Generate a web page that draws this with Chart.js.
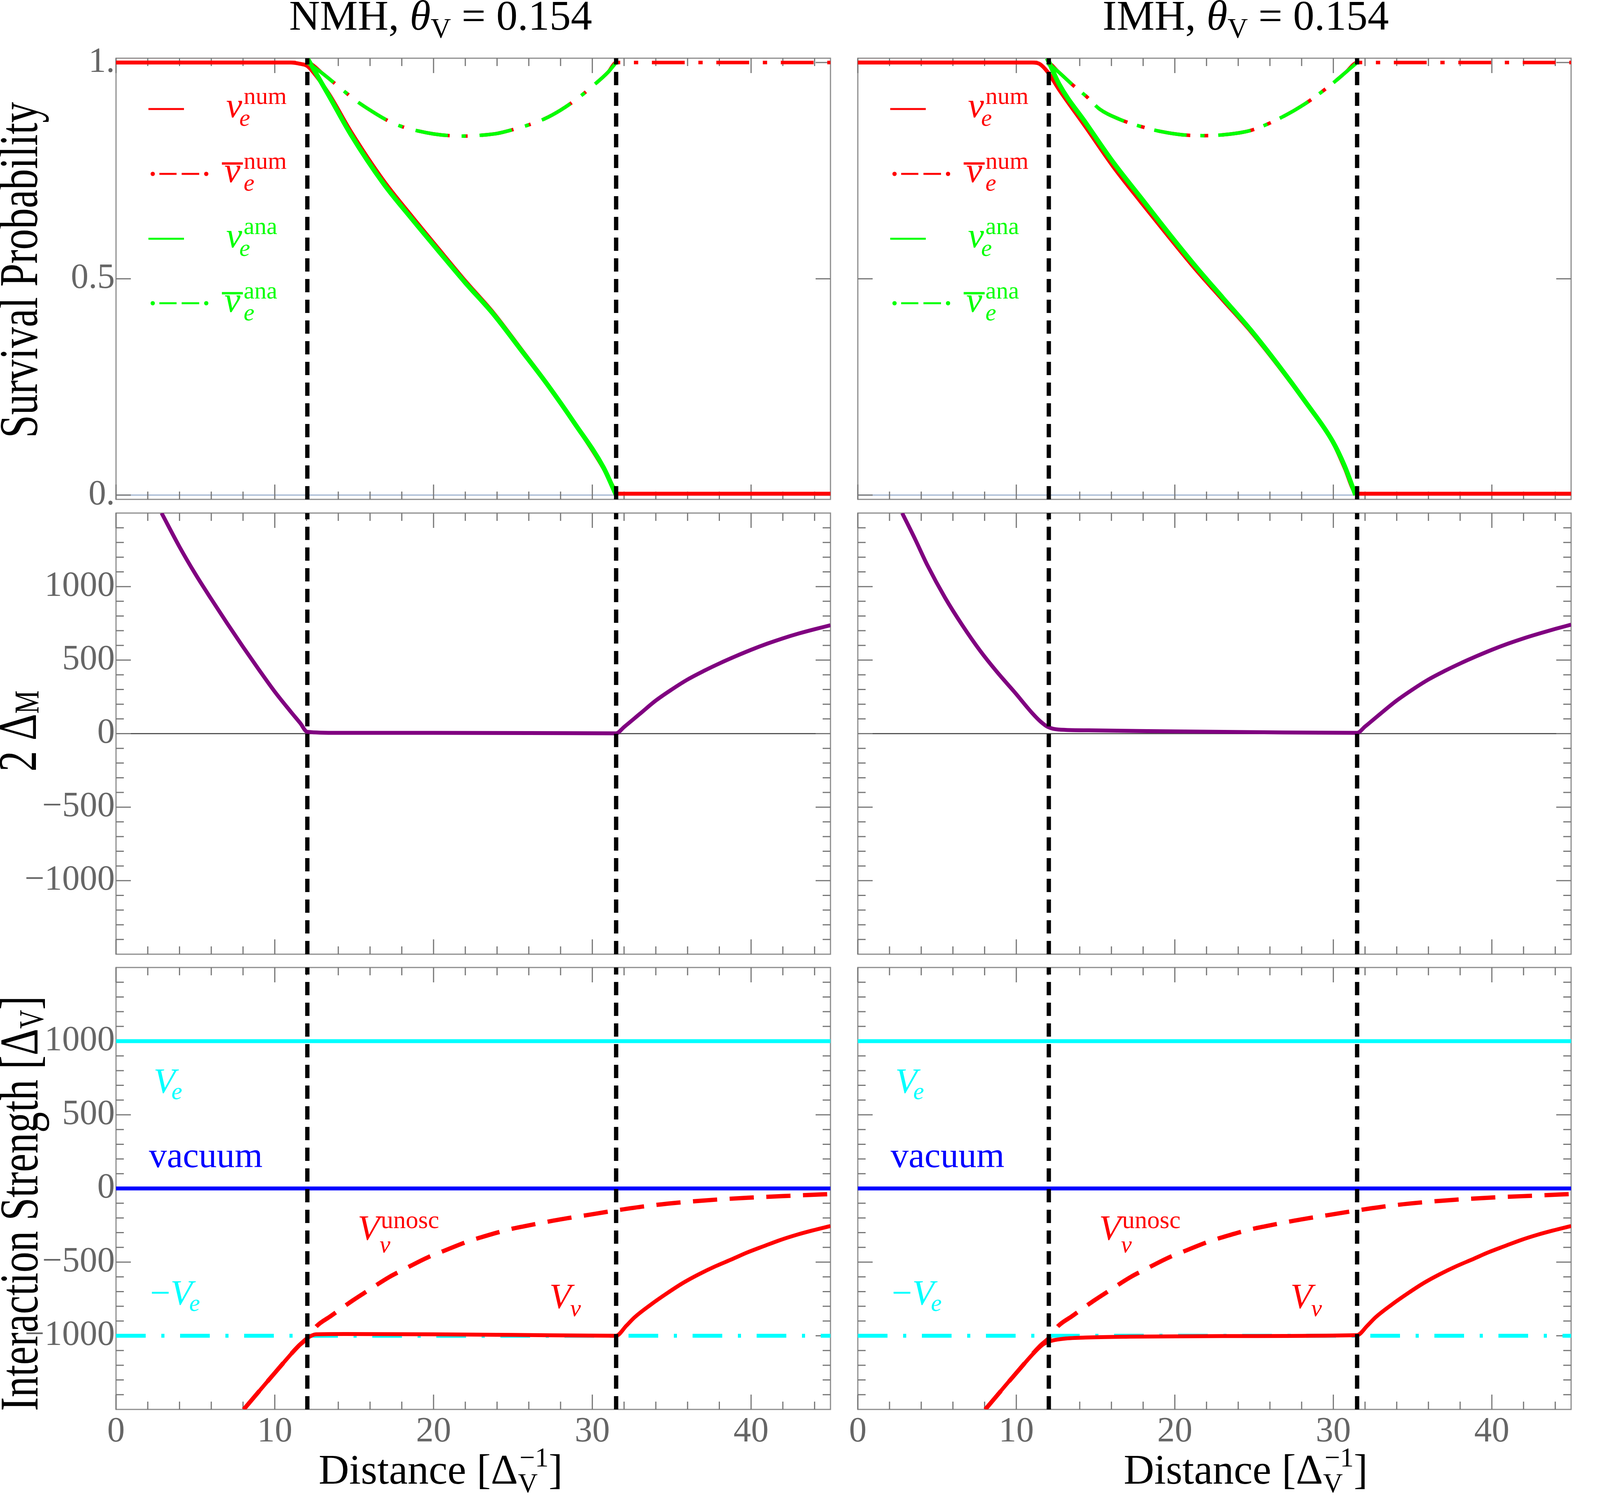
<!DOCTYPE html>
<html><head><meta charset="utf-8">
<script src="https://cdn.jsdelivr.net/npm/chart.js@4.4.0/dist/chart.umd.min.js"></script>
<style>
html,body{margin:0;padding:0;background:#fff;width:4223px;height:3826px;overflow:hidden;position:relative}
canvas{position:absolute}
</style></head><body>
<script>
// ---------------- DATA ----------------
const distTicks = [0, 10, 20, 30, 40];
const distTickLabels = ['0', '10', '20', '30', '40'];
const distMinorTicks = [2, 4, 6, 8, 12, 14, 16, 18, 22, 24, 26, 28, 32, 34, 36, 38, 42, 44];
const probTicks = [0, 0.5, 1];
const probTickLabels = ['0.', '0.5', '1.'];
const strengthTicks = [-1000, -500, 0, 500, 1000];
const strengthTickLabels = ['\u22121000', '\u2212500', '0', '500', '1000'];
const strengthMinorTicks = [-1400, -1300, -1200, -1100, -900, -800, -700, -600, -400, -300, -200, -100,
  100, 200, 300, 400, 600, 700, 800, 900, 1100, 1200, 1300, 1400];
const transitionX = [12.05, 31.5];

// NMH survival probabilities
const nmhNueNumX = [0, 11.0, 11.6, 12.0, 12.3, 13.4, 14.8, 16.85, 18.6, 20.3, 22.0, 23.8, 25.5, 27.2, 28.9, 30.7, 31.45, 31.6, 45];
const nmhNueNumY = [1.0, 1.0, 0.997, 0.993, 0.983, 0.928, 0.84, 0.727, 0.646, 0.57, 0.495, 0.42, 0.338, 0.255, 0.165, 0.062, 0.01, 0.003, 0.003];
const nmhNueAnaX = [12.05, 13.4, 14.8, 16.85, 18.6, 20.3, 22.0, 23.8, 25.5, 27.2, 28.9, 30.7, 31.5];
const nmhNueAnaY = [1.01, 0.924, 0.833, 0.72, 0.64, 0.565, 0.491, 0.417, 0.336, 0.254, 0.165, 0.064, 0.0];
const nmhAntiNumX = [0, 12.05, 13, 14, 15, 16, 17, 18, 19, 20, 21, 22, 23, 24, 25, 26, 27, 28, 29, 30, 31, 31.5, 45];
const nmhAntiNumY = [1.0, 1.0, 0.975, 0.945, 0.915, 0.89, 0.868, 0.852, 0.842, 0.835, 0.831, 0.83, 0.832, 0.836, 0.845, 0.856, 0.87, 0.89, 0.915, 0.945, 0.978, 1.0, 1.0];
const nmhAntiAnaX = [12.05, 13, 14, 15, 16, 17, 18, 19, 20, 21, 22, 23, 24, 25, 26, 27, 28, 29, 30, 31, 31.5];
const nmhAntiAnaY = [1.0, 0.975, 0.945, 0.915, 0.89, 0.868, 0.852, 0.842, 0.835, 0.831, 0.83, 0.832, 0.836, 0.845, 0.856, 0.87, 0.89, 0.915, 0.945, 0.978, 1.0];

// IMH survival probabilities
const imhNueNumX = [0, 11.0, 11.46, 11.98, 12.67, 14.41, 16.1, 17.87, 19.6, 21.33, 23.05, 24.78, 26.5, 28.23, 29.96, 30.7, 31.4, 31.6, 45];
const imhNueNumY = [1.0, 1.0, 0.997, 0.978, 0.939, 0.849, 0.76, 0.677, 0.598, 0.521, 0.45, 0.379, 0.3, 0.215, 0.123, 0.064, 0.005, 0.003, 0.003];
const imhNueAnaX = [11.95, 12.7, 14.41, 16.1, 17.87, 19.6, 21.33, 23.05, 24.78, 26.5, 28.23, 29.96, 30.7, 31.4];
const imhNueAnaY = [1.01, 0.95, 0.859, 0.77, 0.687, 0.606, 0.528, 0.455, 0.382, 0.302, 0.216, 0.124, 0.068, 0.0];
const imhAntiNumX = [0, 11.95, 12.67, 13.5, 14.41, 15.27, 16.5, 17.87, 19.2, 20.46, 21.8, 23.06, 24.78, 26.5, 28.23, 29.96, 30.8, 31.5, 45];
const imhAntiNumY = [1.0, 1.0, 0.978, 0.95, 0.922, 0.892, 0.869, 0.852, 0.84, 0.833, 0.831, 0.833, 0.843, 0.869, 0.905, 0.952, 0.978, 1.0, 1.0];
const imhAntiAnaX = [11.95, 12.67, 13.5, 14.41, 15.27, 16.5, 17.87, 19.2, 20.46, 21.8, 23.06, 24.78, 26.5, 28.23, 29.96, 30.8, 31.5];
const imhAntiAnaY = [1.0, 0.978, 0.95, 0.922, 0.892, 0.869, 0.852, 0.84, 0.833, 0.831, 0.833, 0.843, 0.869, 0.905, 0.952, 0.978, 1.0];

// 2 Delta_M
const nmhDeltaX = [2.87, 4.0, 5.0, 6.0, 7.0, 8.0, 9.0, 10.0, 11.0, 11.6, 12.05, 14, 20, 26, 31.5, 32, 33, 34, 35, 36, 37, 38, 39, 40, 41, 42, 43, 44, 45];
const nmhDeltaY = [1500, 1270, 1085, 915, 750, 590, 435, 285, 150, 72, 12, 5, 5, 4, 2, 45, 135, 225, 300, 368, 425, 477, 525, 570, 611, 648, 681, 710, 737];
const imhDeltaX = [2.8, 3.63, 4.4, 5.5, 6.6, 7.7, 8.8, 9.9, 11.0, 11.55, 12.0, 12.65, 15, 20, 25, 31.5, 32, 33, 34, 35, 36, 37, 38, 39, 40, 41, 42, 43, 44, 45];
const imhDeltaY = [1500, 1319, 1143, 925, 736, 566, 417, 281, 140, 80, 45, 28, 22, 15, 10, 5, 48, 138, 225, 300, 368, 425, 477, 525, 570, 611, 648, 681, 712, 741];

// Interaction strength
const potentialRangeX = [0, 45];
const veY = [1000, 1000];
const vacuumY = [0, 0];
const minusVeY = [-1000, -1000];
const nmhVnuX = [8.04, 10.05, 11.49, 12.06, 12.6, 14.4, 20, 25, 31.49, 32.15, 32.66, 33.68, 34.7, 35.72, 36.74, 37.76, 38.78, 39.8, 40.82, 41.84, 42.86, 43.88, 45];
const nmhVnuY = [-1500, -1246, -1070, -1015, -990, -988, -990, -994, -1000, -931, -875, -789, -712, -641, -581, -528, -481, -433, -391, -350, -315, -285, -255];
const imhVnuX = [8.04, 10.05, 11.63, 12.06, 12.9, 14.36, 17.2, 23, 31.49, 32.15, 32.66, 33.68, 34.7, 35.72, 36.74, 37.76, 38.78, 39.8, 40.82, 41.84, 42.86, 43.88, 45];
const imhVnuY = [-1500, -1246, -1063, -1039, -1021, -1012, -1006, -1002, -996, -931, -875, -789, -712, -641, -581, -528, -481, -433, -391, -350, -315, -285, -255];
const vnuUnoscX = [8.04, 10.05, 11.49, 12.06, 12.64, 13.5, 14.93, 15.8, 17.23, 18.1, 19.67, 20.53, 22.1, 22.98, 24.7, 25.7, 27.57, 28.43, 29.6, 31.44, 33.68, 36.74, 39.8, 42.86, 45];
const vnuUnoscY = [-1500, -1246, -1070, -1015, -934, -868, -759, -698, -600, -551, -466, -429, -362, -332, -280, -257, -218, -202, -182, -150, -116, -84, -63, -48, -38];

// ---------------- RENDERING ----------------
const FONT = '"Liberation Serif", "Times New Roman", serif';
const RED = '#ff0000', GREEN = '#00ff00', CYAN = '#00ffff', BLUE = '#0000ff', PURPLE = '#800080';

function fnt(it, s) { return (it ? 'italic ' : '') + s + 'px ' + FONT; }
function runWidth(ctx, r) {
  ctx.font = fnt(r.it, r.s);
  const off = r.bar ? r.s * 0.07 : 0;
  let w = ctx.measureText(r.t).width + 2 * off, e = 0;
  if (r.sup) { ctx.font = fnt(r.supIt, r.supS); e = Math.max(e, ctx.measureText(r.sup).width + (r.supDx || 0)); }
  if (r.sub) { ctx.font = fnt(r.subIt, r.subS); e = Math.max(e, ctx.measureText(r.sub).width + (r.subDx || 0)); }
  return w + e;
}
function drawRuns(ctx, runs, x, y, align) {
  const total = runs.reduce((a, r) => a + runWidth(ctx, r), 0);
  let cx = align === 'center' ? x - total / 2 : x;
  ctx.textAlign = 'left'; ctx.textBaseline = 'alphabetic';
  for (const r of runs) {
    ctx.font = fnt(r.it, r.s);
    const off = r.bar ? r.s * 0.07 : 0;
    const bw = ctx.measureText(r.t).width;
    ctx.fillText(r.t, cx + off, y + (r.dy || 0));
    const w = bw + 2 * off;
    if (r.bar) ctx.fillRect(cx, y - r.s * 0.55, w, r.s * 0.065);
    let e = 0;
    if (r.sup) { ctx.font = fnt(r.supIt, r.supS); ctx.fillText(r.sup, cx + w + (r.supDx || 0), y + r.supDy); e = Math.max(e, ctx.measureText(r.sup).width + (r.supDx || 0)); }
    if (r.sub) { ctx.font = fnt(r.subIt, r.subS); ctx.fillText(r.sub, cx + w + (r.subDx || 0), y + r.subDy); e = Math.max(e, ctx.measureText(r.sub).width + (r.subDx || 0)); }
    cx += w + e;
  }
}

const nuSym = (sup, bar) => [{ t: '\u03bd', it: true, s: 92, bar: bar, sup: sup, supS: 62, supDy: -34, supDx: bar ? 2 : 4, sub: 'e', subIt: true, subS: 62, subDy: 22, subDx: bar ? 2 : -7 }];

const panelPlugin = {
  id: 'panel',
  beforeDatasetsDraw(chart, args, o) {
    const { ctx, chartArea: a, scales: { x, y } } = chart;
    ctx.save();
    if (o.zeroLine) {
      const py = y.getPixelForValue(0);
      ctx.strokeStyle = o.zeroLine; ctx.lineWidth = 3;
      ctx.beginPath(); ctx.moveTo(a.left, py); ctx.lineTo(a.right, py); ctx.stroke();
    }
    ctx.strokeStyle = '#8c8c8c'; ctx.lineWidth = 3;
    ctx.strokeRect(a.left, a.top, a.right - a.left, a.bottom - a.top);
    ctx.strokeStyle = '#777'; ctx.lineWidth = 3;
    const tickX = (v, len) => { const px = x.getPixelForValue(v);
      ctx.beginPath(); ctx.moveTo(px, a.bottom); ctx.lineTo(px, a.bottom - len);
      ctx.moveTo(px, a.top); ctx.lineTo(px, a.top + len); ctx.stroke(); };
    const tickY = (v, len) => { const py = y.getPixelForValue(v);
      ctx.beginPath(); ctx.moveTo(a.left, py); ctx.lineTo(a.left + len, py);
      ctx.moveTo(a.right, py); ctx.lineTo(a.right - len, py); ctx.stroke(); };
    distTicks.forEach(v => tickX(v, 38));
    distMinorTicks.forEach(v => tickX(v, 20));
    o.yMajor.forEach(v => tickY(v, 38));
    (o.yMinor || []).forEach(v => tickY(v, 20));
    ctx.restore();
  },
  afterDraw(chart, args, o) {
    const { ctx, chartArea: a, scales: { x, y } } = chart;
    ctx.save();
    if (o.legend) {
      const rows = [
        { y: 130, dd: false, c: RED, runs: nuSym('num', false), tx: 282, ty: 151 },
        { y: 296, dd: true, c: RED, runs: nuSym('num', true), tx: 271, ty: 317 },
        { y: 462, dd: false, c: GREEN, runs: nuSym('ana', false), tx: 282, ty: 484 },
        { y: 627, dd: true, c: GREEN, runs: nuSym('ana', true), tx: 271, ty: 649 }
      ];
      for (const r of rows) {
        ctx.strokeStyle = r.c; ctx.fillStyle = r.c; ctx.lineWidth = 5;
        const yy = a.top + r.y, x0 = a.left;
        if (!r.dd) {
          ctx.beginPath(); ctx.moveTo(x0 + 83, yy); ctx.lineTo(x0 + 174, yy); ctx.stroke();
        } else {
          ctx.beginPath(); ctx.arc(x0 + 94, yy, 5.5, 0, 2 * Math.PI); ctx.fill();
          ctx.beginPath(); ctx.moveTo(x0 + 111, yy); ctx.lineTo(x0 + 155, yy);
          ctx.moveTo(x0 + 168, yy); ctx.lineTo(x0 + 213, yy); ctx.stroke();
          ctx.beginPath(); ctx.arc(x0 + 231, yy, 5.5, 0, 2 * Math.PI); ctx.fill();
        }
        drawRuns(ctx, r.runs, x0 + r.tx, a.top + r.ty, 'left');
      }
    }
    (o.labels || []).forEach(l => {
      ctx.fillStyle = l.c;
      drawRuns(ctx, l.runs, x.getPixelForValue(l.x), y.getPixelForValue(l.y), 'left');
    });
    if (o.title) { ctx.fillStyle = '#000'; drawRuns(ctx, o.title.runs, o.title.cx, o.title.y, 'center'); }
    if (o.xTitle) { ctx.fillStyle = '#000'; drawRuns(ctx, o.xTitle.runs, o.xTitle.cx, o.xTitle.y, 'center'); }
    if (o.yTitle) {
      ctx.fillStyle = '#000';
      ctx.translate(o.yTitle.bx, o.yTitle.cy);
      ctx.rotate(-Math.PI / 2);
      ctx.scale(0.76, 1);
      drawRuns(ctx, o.yTitle.runs, 0, 0, 'center');
    }
    ctx.restore();
  }
};

function series(xs, ys, color, width, dash) {
  return { data: xs.map((v, i) => ({ x: v, y: ys[i] })), borderColor: color, borderWidth: width,
    borderDash: dash || [], pointRadius: 0, fill: false, cubicInterpolationMode: 'monotone' };
}
function vline(xv, ymin, ymax) {
  return { data: [{ x: xv, y: ymin }, { x: xv, y: ymax }], borderColor: '#000', borderWidth: 11,
    borderDash: [34, 19], pointRadius: 0, fill: false, tension: 0 };
}

const cols = {
  L: { left: 0, width: 2160, padL: 0, padR: 34, yAxis: true },
  R: { left: 2160, width: 2063, padL: 36, padR: 201, yAxis: false }
};
const rows = {
  1: { top: 0, height: 1295, padT: 149, padB: 17, xAxis: false },
  2: { top: 1295, height: 1164, padT: 18, padB: 17, xAxis: false },
  3: { top: 2459, height: 1367, padT: 17, padB: 0, xAxis: true, xAxisH: 219 }
};

function makeChart(col, row, ymin, ymax, yTicks, yLabels, datasets, panelOpts) {
  const cv = document.createElement('canvas');
  cv.width = col.width; cv.height = row.height;
  cv.style.left = col.left + 'px'; cv.style.top = row.top + 'px';
  cv.style.width = col.width + 'px'; cv.style.height = row.height + 'px';
  document.body.appendChild(cv);
  datasets.forEach((d, i) => { d.order = -i; });
  new Chart(cv, {
    type: 'line',
    data: { datasets },
    plugins: [panelPlugin],
    options: {
      responsive: false, animation: false, devicePixelRatio: 1,
      layout: { padding: { left: col.padL, right: col.padR, top: row.padT, bottom: row.padB } },
      plugins: { legend: { display: false }, tooltip: { enabled: false }, panel: panelOpts },
      scales: {
        x: {
          type: 'linear', min: 0, max: 45, display: row.xAxis,
          grid: { display: false, drawTicks: false }, border: { display: false },
          afterBuildTicks: s => { s.ticks = distTicks.map(v => ({ value: v })); },
          ticks: { callback: (v, i) => distTickLabels[i], font: { family: FONT, size: 90 }, color: '#666',
            padding: 4, maxRotation: 0, autoSkip: false },
          afterFit: s => { s.height = row.xAxis ? row.xAxisH : 0; s.paddingLeft = 0; s.paddingRight = 0; s.paddingTop = 0; s.paddingBottom = 0; }
        },
        y: {
          type: 'linear', min: ymin, max: ymax, display: col.yAxis,
          grid: { display: false, drawTicks: false }, border: { display: false },
          afterBuildTicks: s => { s.ticks = yTicks.map(v => ({ value: v })); },
          ticks: { callback: (v, i) => yLabels[i], font: { family: FONT, size: 90 }, color: '#666', padding: 3, autoSkip: false },
          afterFit: s => { s.width = col.yAxis ? 297 : 0; s.paddingLeft = 0; s.paddingRight = 0; s.paddingTop = 0; s.paddingBottom = 0; }
        }
      }
    }
  });
}

function probSets(nX, nY, aX, aY, bnX, bnY, baX, baY) {
  return [
    series(nX, nY, RED, 10),
    series(bnX, bnY, RED, 9, [84, 35, 11, 35]),
    series(aX, aY, GREEN, 12),
    series(baX, baY, GREEN, 9, [84, 35, 11, 35]),
    vline(transitionX[0], -0.01, 1.01),
    vline(transitionX[1], -0.01, 1.01)
  ];
}
function strengthSets(vX, vY) {
  return [
    series(potentialRangeX, veY, CYAN, 10),
    series(potentialRangeX, vacuumY, BLUE, 10),
    series(potentialRangeX, minusVeY, CYAN, 10, [76, 40, 8, 40]),
    series(vnuUnoscX, vnuUnoscY, RED, 11, [62, 32]),
    series(vX, vY, RED, 10),
    vline(transitionX[0], -1500, 1500),
    vline(transitionX[1], -1500, 1500)
  ];
}
const strengthLabels = [
  { x: 2.36, y: 649, c: CYAN, runs: [{ t: 'V', it: true, s: 92, sub: 'e', subIt: true, subS: 62, subDy: 16, subDx: -10 }] },
  { x: 2.07, y: 144, c: BLUE, runs: [{ t: 'vacuum', s: 92 }] },
  { x: 2.15, y: -789, c: CYAN, runs: [{ t: '\u2212', s: 92 }, { t: 'V', it: true, s: 92, sub: 'e', subIt: true, subS: 62, subDy: 16, subDx: -8 }] },
  { x: 15.22, y: -350, c: RED, runs: [{ t: 'V', it: true, s: 92, sup: 'unosc', supS: 64, supDy: -30, supDx: 3, sub: '\u03bd', subIt: true, subS: 62, subDy: 32, subDx: 0 }] },
  { x: 27.29, y: -814, c: RED, runs: [{ t: 'V', it: true, s: 92, sub: '\u03bd', subIt: true, subS: 62, subDy: 20, subDx: -3 }] }
];
const titleRuns = (h) => [{ t: h + ', ', s: 109 }, { t: '\u03b8', it: true, s: 109, sub: 'V', subS: 72, subDy: 20, subDx: 0 }, { t: ' = 0.154', s: 109 }];
const xTitleRuns = [{ t: 'Distance [\u0394', s: 108, sup: '\u22121', supS: 70, supDy: -44, supDx: 4, sub: 'V', subS: 70, subDy: 22, subDx: 0 }, { t: ']', s: 108 }];

// Row 1
makeChart(cols.L, rows[1], -0.01, 1.01, probTicks, probTickLabels,
  probSets(nmhNueNumX, nmhNueNumY, nmhNueAnaX, nmhNueAnaY, nmhAntiNumX, nmhAntiNumY, nmhAntiAnaX, nmhAntiAnaY),
  { yMajor: probTicks, zeroLine: '#9fb3d0', legend: true,
    title: { runs: titleRuns('NMH'), cx: 1128, y: 76 },
    yTitle: { runs: [{ t: 'Survival Probability', s: 140 }], bx: 95, cy: 691 } });
makeChart(cols.R, rows[1], -0.01, 1.01, probTicks, probTickLabels,
  probSets(imhNueNumX, imhNueNumY, imhNueAnaX, imhNueAnaY, imhAntiNumX, imhAntiNumY, imhAntiAnaX, imhAntiAnaY),
  { yMajor: probTicks, zeroLine: '#9fb3d0', legend: true,
    title: { runs: titleRuns('IMH'), cx: 1029, y: 76 } });

// Row 2
makeChart(cols.L, rows[2], -1500, 1500, strengthTicks, strengthTickLabels,
  [series(nmhDeltaX, nmhDeltaY, PURPLE, 10), vline(transitionX[0], -1500, 1500), vline(transitionX[1], -1500, 1500)],
  { yMajor: strengthTicks, yMinor: strengthMinorTicks, zeroLine: '#555',
    yTitle: { runs: [{ t: '2 \u0394', s: 140, sub: 'M', subS: 88, subDy: 6, subDx: 0 }], bx: 92, cy: 576 } });
makeChart(cols.R, rows[2], -1500, 1500, strengthTicks, strengthTickLabels,
  [series(imhDeltaX, imhDeltaY, PURPLE, 10), vline(transitionX[0], -1500, 1500), vline(transitionX[1], -1500, 1500)],
  { yMajor: strengthTicks, yMinor: strengthMinorTicks, zeroLine: '#555' });

// Row 3
makeChart(cols.L, rows[3], -1500, 1500, strengthTicks, strengthTickLabels,
  strengthSets(nmhVnuX, nmhVnuY),
  { yMajor: strengthTicks, yMinor: strengthMinorTicks, labels: strengthLabels,
    xTitle: { runs: xTitleRuns, cx: 1128, y: 1338 },
    yTitle: { runs: [{ t: 'Interaction Strength [\u0394', s: 140, sub: 'V', subS: 88, subDy: 14, subDx: 0 }, { t: ']', s: 140 }], bx: 96, cy: 621 } });
makeChart(cols.R, rows[3], -1500, 1500, strengthTicks, strengthTickLabels,
  strengthSets(imhVnuX, imhVnuY),
  { yMajor: strengthTicks, yMinor: strengthMinorTicks, labels: strengthLabels,
    xTitle: { runs: xTitleRuns, cx: 1029, y: 1338 } });
</script>
</body></html>
